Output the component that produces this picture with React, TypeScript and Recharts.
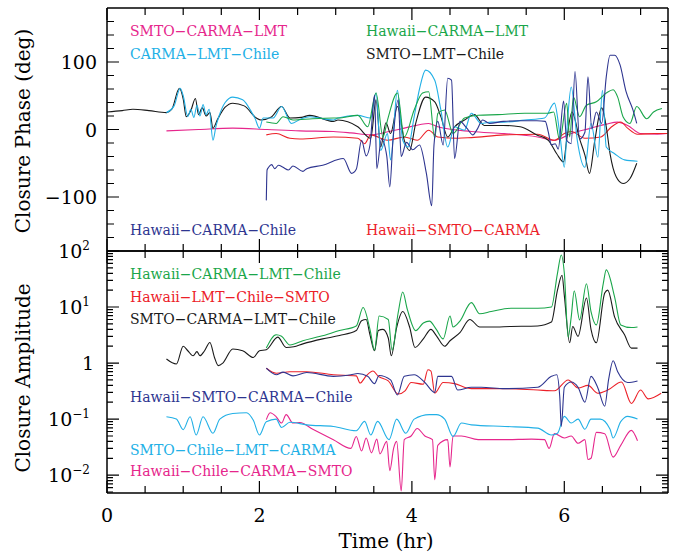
import React from 'react';
import { LineChart, Line, XAxis, YAxis } from 'recharts';

type P = [number, number];

// ---------- axis ticks ----------
const timeTicks = [0, 0.5, 1, 1.5, 2, 2.5, 3, 3.5, 4, 4.5, 5, 5.5, 6, 6.5, 7];
const timeLabels = [0, 2, 4, 6];
const phaseTicks = [-160, -140, -120, -100, -80, -60, -40, -20, 0, 20, 40, 60, 80, 100, 120, 140, 160];
const phaseLabels = [-100, 0, 100];
const ampMajor = [0.01, 0.1, 1, 10, 100];
const ampExp = ['−2', '−1', '', '1', '2'];
const ampMinorMult = [2, 3, 4, 5, 6, 7, 8, 9];

// ---------- closure phase (deg) ----------
const phSmtoLmtChile: P[] = [[0,26],[0.2,28],[0.34,30],[0.55,28],[0.78,25],[0.85,30],[0.95,61],[1.0,45],[1.04,19],[1.1,28],[1.16,46],[1.2,22],[1.25,32],[1.3,20],[1.35,25],[1.39,2],[1.45,15],[1.55,33],[1.65,39],[1.8,35],[1.96,17],[2.02,14],[2.15,18],[2.29,34],[2.4,17],[2.55,18],[2.66,21],[2.97,12],[3.03,14],[3.29,4],[3.46,-13],[3.53,44],[3.59,-26],[3.66,10],[3.72,-6],[3.81,34],[3.9,-16],[3.97,-31],[4.05,9],[4.18,48],[4.3,41],[4.38,19],[4.47,-11],[4.56,4],[4.69,14],[4.82,22],[4.95,6],[5.2,6],[5.42,4],[5.64,-8],[5.79,-16],[5.9,-36],[5.99,-48],[6.03,-16],[6.1,26],[6.2,-14],[6.27,-38],[6.33,-65],[6.4,-16],[6.49,32],[6.55,4],[6.6,-36],[6.68,-70],[6.77,-80],[6.86,-73],[6.95,-50]];
const phCarmaLmtChile: P[] = [[0.78,25],[0.88,35],[0.96,61],[1.0,50],[1.06,19],[1.1,30],[1.14,18],[1.18,36],[1.22,20],[1.26,37],[1.3,22],[1.34,30],[1.39,-16],[1.43,5],[1.47,20],[1.55,40],[1.65,48],[1.78,44],[1.9,25],[1.94,17],[2.0,2],[2.05,17],[2.18,17],[2.29,34],[2.42,9],[2.55,16],[2.66,19],[2.97,14],[3.03,17],[3.29,21],[3.46,17],[3.53,54],[3.59,-31],[3.68,-6],[3.72,-45],[3.81,58],[3.88,-16],[3.95,-26],[4.03,19],[4.1,60],[4.18,88],[4.3,73],[4.38,29],[4.47,-26],[4.56,4],[4.69,-1],[4.78,24],[4.91,9],[5.04,11],[5.21,11],[5.48,14],[5.74,17],[5.87,39],[5.94,-6],[6.0,-56],[6.04,10],[6.09,63],[6.17,-16],[6.27,-56],[6.35,9],[6.44,-41],[6.5,58],[6.55,-26],[6.66,-36],[6.79,-45],[6.96,-47]];
const phHawaiiCarmaLmt: P[] = [[2.09,11],[2.22,9],[2.31,19],[2.44,14],[2.7,16],[2.97,17],[3.03,17],[3.29,21],[3.42,4],[3.53,54],[3.62,-11],[3.68,14],[3.81,54],[3.9,-11],[4.03,29],[4.14,54],[4.22,56],[4.3,-13],[4.34,24],[4.43,29],[4.54,-6],[4.69,17],[4.87,21],[5.13,22],[5.48,24],[5.78,24],[5.86,26],[5.94,-16],[6.03,39],[6.07,-11],[6.12,48],[6.2,19],[6.29,36],[6.42,41],[6.55,54],[6.64,59],[6.7,48],[6.77,19],[6.86,9],[6.95,34],[7.08,16],[7.17,26],[7.28,31]];
const phSmtoCarmaLmt: P[] = [[0.78,-2],[1.2,0],[1.65,2],[2.1,0],[2.53,-2],[2.97,-3],[3.2,-5],[3.46,-8],[3.7,-3],[3.9,2],[4.22,9],[4.34,4],[4.78,-3],[5.21,-6],[5.65,-11],[5.87,-16],[6.09,-6],[6.35,2],[6.55,8],[6.7,11],[6.83,6],[7.0,-6],[7.22,-7],[7.35,-6]];
const phHawaiiSmtoCarma: P[] = [[2.09,-8],[2.22,-6],[2.4,-13],[2.53,-14],[2.97,-11],[3.29,-13],[3.38,-21],[3.46,-8],[3.68,-16],[3.9,-11],[4.07,-16],[4.22,-1],[4.34,-11],[4.6,-13],[4.78,-12],[5.21,-8],[5.65,-7],[5.87,-16],[6.0,-6],[6.09,-3],[6.27,-13],[6.48,-11],[6.62,4],[6.74,11],[6.83,2],[6.96,-7],[7.18,-6],[7.35,-6]];
const phHawaiiCarmaChile: P[] = [[2.09,-105],[2.1,-60],[2.12,-56],[2.16,-52],[2.2,-58],[2.25,-53],[2.31,-56],[2.38,-60],[2.44,-54],[2.57,-62],[2.62,-58],[2.83,-53],[3.1,-43],[3.21,-65],[3.27,-59],[3.34,-16],[3.4,-39],[3.45,-23],[3.51,51],[3.54,-58],[3.6,-14],[3.67,-39],[3.71,-85],[3.75,-19],[3.82,44],[3.86,-40],[3.93,-19],[4.01,-30],[4.1,-23],[4.19,-65],[4.26,-113],[4.29,-23],[4.34,12],[4.41,-23],[4.47,76],[4.52,73],[4.56,-43],[4.63,12],[4.72,2],[4.8,-8],[4.85,-1],[4.93,14],[5.02,9],[5.2,12],[5.42,13],[5.64,13],[5.75,12],[5.79,-4],[5.83,-23],[5.88,-21],[5.92,-29],[5.99,42],[6.03,-16],[6.09,-21],[6.14,86],[6.2,-14],[6.27,-4],[6.31,78],[6.36,1],[6.42,26],[6.49,9],[6.55,78],[6.6,110],[6.66,110],[6.73,96],[6.81,56],[6.9,29],[6.95,9]];

// ---------- closure amplitude ----------
const amSmtoCarmaLmtChile: P[] = [[0.78,1.18],[0.91,0.96],[1.0,2.0],[1.06,1.66],[1.13,1.35],[1.18,1.6],[1.22,1.35],[1.28,1.66],[1.35,2.33],[1.41,1.26],[1.46,0.9],[1.52,1.0],[1.65,1.78],[1.78,1.66],[1.92,1.26],[2.0,1.66],[2.09,1.73],[2.24,2.9],[2.35,1.9],[2.45,1.95],[2.57,2.2],[2.83,2.7],[3.05,3.1],[3.27,3.8],[3.34,5.7],[3.4,6.0],[3.45,3.2],[3.51,1.66],[3.56,3.8],[3.62,4.0],[3.69,2.8],[3.73,1.35],[3.8,4.3],[3.88,8.3],[3.97,4.4],[4.04,1.9],[4.15,2.7],[4.25,4.0],[4.32,3.1],[4.43,2.0],[4.5,2.5],[4.63,3.5],[4.76,6.0],[4.89,4.4],[5.04,4.4],[5.3,4.5],[5.65,4.6],[5.83,5.4],[5.91,20],[5.97,37],[6.0,16],[6.07,2.3],[6.11,4.5],[6.18,3.0],[6.29,14.5],[6.35,4.0],[6.42,2.3],[6.53,17.8],[6.57,20],[6.66,6.6],[6.79,3.2],[6.88,1.85],[6.96,1.85]];
const amHawaiiCarmaLmtChile: P[] = [[2.09,1.85],[2.22,3.2],[2.29,3.0],[2.4,2.1],[2.57,2.5],[2.8,3.0],[3.05,3.8],[3.27,4.6],[3.36,9.8],[3.45,4.0],[3.51,1.7],[3.57,6.9],[3.69,6.0],[3.74,1.7],[3.82,7.9],[3.88,18.5],[3.94,9.1],[4.05,3.8],[4.15,5.2],[4.23,5.6],[4.32,4.0],[4.41,2.7],[4.5,6.9],[4.54,4.4],[4.63,5.6],[4.78,12],[4.89,7.6],[5.04,8.3],[5.3,9.5],[5.65,9.5],[5.83,10],[5.91,40],[5.96,85],[6.0,40],[6.05,2.9],[6.09,6.6],[6.13,19.5],[6.2,5.9],[6.29,26],[6.35,8.3],[6.42,4.8],[6.51,26],[6.55,46],[6.66,15],[6.74,4.8],[6.88,4.3],[6.96,4.4]];
const amHawaiiLmtChileSmto: P[] = [[2.09,0.81],[2.22,0.66],[2.4,0.7],[2.62,0.7],[2.97,0.62],[3.27,0.59],[3.32,0.44],[3.4,0.59],[3.49,0.72],[3.56,0.58],[3.69,0.48],[3.82,0.28],[3.91,0.32],[3.99,0.45],[4.15,0.42],[4.21,0.76],[4.25,0.72],[4.3,0.29],[4.41,0.45],[4.56,0.43],[4.72,0.36],[4.78,0.35],[5.22,0.35],[5.65,0.33],[5.87,0.32],[6.05,0.5],[6.18,0.36],[6.31,0.4],[6.44,0.29],[6.57,0.33],[6.75,0.46],[6.88,0.19],[7.0,0.33],[7.1,0.23],[7.27,0.29]];
const amHawaiiSmtoCarmaChile: P[] = [[2.09,0.81],[2.22,0.62],[2.31,0.69],[2.44,0.59],[2.62,0.68],[2.97,0.58],[3.2,0.62],[3.29,0.65],[3.42,0.58],[3.51,0.43],[3.57,0.6],[3.72,0.5],[3.81,0.27],[3.9,0.58],[4.03,0.62],[4.17,0.45],[4.3,0.3],[4.34,0.58],[4.52,0.58],[4.6,0.33],[4.78,0.37],[4.91,0.37],[5.22,0.35],[5.65,0.37],[5.83,0.58],[5.9,0.62],[5.94,0.25],[5.96,0.074],[6.0,0.37],[6.09,0.46],[6.18,0.37],[6.27,0.2],[6.35,0.58],[6.44,0.36],[6.53,0.17],[6.58,0.5],[6.64,1.1],[6.7,0.7],[6.83,0.45],[6.96,0.48]];
const amSmtoChileLmtCarma: P[] = [[0.78,0.11],[0.91,0.1],[1.0,0.065],[1.09,0.11],[1.17,0.052],[1.26,0.11],[1.39,0.056],[1.48,0.1],[1.65,0.126],[1.83,0.13],[1.92,0.095],[2.0,0.052],[2.09,0.09],[2.22,0.1],[2.29,0.071],[2.4,0.088],[2.62,0.079],[2.97,0.074],[3.27,0.062],[3.38,0.091],[3.46,0.052],[3.55,0.091],[3.7,0.043],[3.8,0.1],[3.92,0.056],[4.03,0.1],[4.23,0.12],[4.32,0.12],[4.43,0.1],[4.54,0.049],[4.65,0.085],[4.78,0.079],[5.22,0.074],[5.65,0.069],[5.83,0.052],[5.91,0.056],[6.0,0.112],[6.09,0.085],[6.18,0.1],[6.27,0.066],[6.35,0.1],[6.47,0.1],[6.6,0.066],[6.64,0.046],[6.74,0.09],[6.83,0.112],[6.96,0.1]];
const amHawaiiChileCarmaSmto: P[] = [[2.09,0.098],[2.14,0.13],[2.22,0.11],[2.29,0.085],[2.35,0.12],[2.44,0.085],[2.53,0.087],[2.7,0.066],[2.97,0.043],[3.2,0.03],[3.27,0.049],[3.34,0.027],[3.4,0.046],[3.47,0.025],[3.54,0.044],[3.58,0.024],[3.67,0.04],[3.71,0.012],[3.76,0.03],[3.8,0.04],[3.86,0.0052],[3.9,0.043],[3.99,0.05],[4.07,0.068],[4.17,0.05],[4.27,0.043],[4.3,0.0083],[4.34,0.034],[4.47,0.043],[4.5,0.014],[4.54,0.05],[4.65,0.05],[4.87,0.043],[5.22,0.043],[5.57,0.044],[5.74,0.043],[5.8,0.03],[5.87,0.055],[6.0,0.046],[6.09,0.05],[6.18,0.037],[6.27,0.043],[6.31,0.019],[6.35,0.02],[6.42,0.058],[6.53,0.055],[6.64,0.021],[6.74,0.034],[6.88,0.063],[6.96,0.041]];

const C = {
  magenta: '#e6268c',
  cyan: '#22b0e6',
  green: '#1aa64a',
  black: '#1a1a1a',
  blue: '#2e3590',
  red: '#ec2028',
};

const FONT = "'DejaVu Serif', serif";
const rows = (p: P[]) => p.map(([t, v]) => ({ t, v }));

const ampTicks: number[] = [];
[0.001, 0.01, 0.1, 1, 10].forEach((d) => {
  ampMinorMult.forEach((m) => {
    const v = +(d * m).toPrecision(3);
    if (v >= 0.0048 && v < 100) ampTicks.push(v);
  });
});
ampMajor.forEach((v) => ampTicks.push(v));
ampTicks.sort((a, b) => a - b);
const isMajorAmp = (v: number) => ampMajor.findIndex((m) => Math.abs(m - v) / m < 1e-6);

// ---------- geometry (page pixels of the two plot frames) ----------
const X_DOMAIN: [number, number] = [0, 7.36];
const PH_DOMAIN: [number, number] = [-180, 180];
const AMP_DOMAIN: [number, number] = [0.0048, 100];
const PL = 107;
const PR = 668;
const T1 = 8;
const B1 = 251;
const T2 = 251;
const B2 = 493;
const xPx = (t: number) => PL + ((t - X_DOMAIN[0]) / (X_DOMAIN[1] - X_DOMAIN[0])) * (PR - PL);
const phPx = (v: number) => T1 + ((PH_DOMAIN[1] - v) / (PH_DOMAIN[1] - PH_DOMAIN[0])) * (B1 - T1);
const ampPx = (v: number) => T2 + (Math.log10(AMP_DOMAIN[1] / v) / Math.log10(AMP_DOMAIN[1] / AMP_DOMAIN[0])) * (B2 - T2);

function frameTickPath() {
  const seg: string[] = [];
  timeTicks.forEach((t) => {
    const x = xPx(t).toFixed(1);
    const len = timeLabels.includes(t) ? 12 : 7;
    seg.push(`M${x},${T1}v${len}`, `M${x},${B1}v${-len}`, `M${x},${T2}v${len}`, `M${x},${B2}v${-len}`);
  });
  phaseTicks.forEach((v) => {
    const y = phPx(v).toFixed(1);
    const len = phaseLabels.includes(v) ? 12 : 7;
    seg.push(`M${PL},${y}h${len}`, `M${PR},${y}h${-len}`);
  });
  ampTicks.forEach((v) => {
    const y = ampPx(v).toFixed(1);
    const len = isMajorAmp(v) >= 0 ? 12 : 6;
    seg.push(`M${PL},${y}h${len}`, `M${PR},${y}h${-len}`);
  });
  return seg.join('');
}

// ---------- tick labels ----------
const timeLabel = (props: any) => {
  const v = Number(props.payload.value);
  if (!timeLabels.includes(v)) return <g />;
  return (
    <text x={Number(props.x)} y={Number(props.y) + 29} textAnchor="middle" fontSize={19} fontFamily={FONT} fill="#000">
      {v}
    </text>
  );
};
const phaseLabel = (props: any) => {
  const v = Number(props.payload.value);
  if (!phaseLabels.includes(v)) return <g />;
  return (
    <text x={Number(props.x) - 10} y={Number(props.y) + 7} textAnchor="end" fontSize={19} fontFamily={FONT} fill="#000">
      {v < 0 ? '−' + Math.abs(v) : String(v)}
    </text>
  );
};
const ampLabel = (props: any) => {
  const v = Number(props.payload.value);
  const i = isMajorAmp(v);
  if (i < 0) return <g />;
  const x = Number(props.x);
  const y = Number(props.y);
  if (ampExp[i] === '')
    return <text x={x - 13} y={y + 7} textAnchor="end" fontSize={19} fontFamily={FONT} fill="#000">1</text>;
  return (
    <text x={x - 17} y={y + 7} textAnchor="end" fontSize={19} fontFamily={FONT} fill="#000">
      10<tspan dy={-8} fontSize={12}>{ampExp[i]}</tspan>
    </text>
  );
};

const lineProps = {
  type: 'monotone' as const,
  dataKey: 'v',
  dot: false,
  activeDot: false,
  strokeWidth: 1.1,
  isAnimationActive: false,
};

const axisCommon = {
  tickSize: 0,
  tickMargin: 0,
  interval: 0 as const,
  tickLine: false,
  allowDataOverflow: true,
  type: 'number' as const,
};
const frame = { stroke: '#000', strokeWidth: 1.5 };

const labelStyle = { fontFamily: FONT, fontSize: 14 } as const;

export default function App() {
  return (
    <div style={{ position: 'absolute', left: 0, top: 0, width: 678, height: 557, background: '#fff' }}>
      <div style={{ position: 'absolute', left: 0, top: 0 }}>
        <LineChart width={678} height={260} margin={{ top: 0, right: 0, bottom: 0, left: 0 }}>
          <XAxis xAxisId={0} dataKey="t" domain={X_DOMAIN} ticks={timeTicks} height={9} orientation="bottom" tick={false} axisLine={frame} {...axisCommon} />
          <XAxis xAxisId="top" dataKey="t" domain={X_DOMAIN} ticks={timeTicks} height={8} orientation="top" tick={false} axisLine={frame} {...axisCommon} />
          <YAxis yAxisId={0} domain={PH_DOMAIN} ticks={phaseTicks} width={107} orientation="left" tick={phaseLabel} axisLine={frame} {...axisCommon} />
          <YAxis yAxisId="right" domain={PH_DOMAIN} ticks={phaseTicks} width={10} orientation="right" tick={false} axisLine={frame} {...axisCommon} />
          <Line {...lineProps} data={rows(phSmtoCarmaLmt)} stroke={C.magenta} />
          <Line {...lineProps} data={rows(phHawaiiSmtoCarma)} stroke={C.red} />
          <Line {...lineProps} data={rows(phSmtoLmtChile)} stroke={C.black} />
          <Line {...lineProps} data={rows(phCarmaLmtChile)} stroke={C.cyan} />
          <Line {...lineProps} data={rows(phHawaiiCarmaLmt)} stroke={C.green} />
          <Line {...lineProps} data={rows(phHawaiiCarmaChile)} stroke={C.blue} />
        </LineChart>
      </div>
      <div style={{ position: 'absolute', left: 0, top: 231 }}>
        <LineChart width={678} height={326} margin={{ top: 0, right: 0, bottom: 0, left: 0 }}>
          <XAxis xAxisId={0} dataKey="t" domain={X_DOMAIN} ticks={timeTicks} height={64} orientation="bottom" tick={timeLabel} axisLine={frame} {...axisCommon} />
          <XAxis xAxisId="top" dataKey="t" domain={X_DOMAIN} ticks={timeTicks} height={20} orientation="top" tick={false} axisLine={frame} {...axisCommon} />
          <YAxis yAxisId={0} scale="log" domain={AMP_DOMAIN} ticks={ampTicks} width={107} orientation="left" tick={ampLabel} axisLine={frame} {...axisCommon} />
          <YAxis yAxisId="right" scale="log" domain={AMP_DOMAIN} ticks={ampTicks} width={10} orientation="right" tick={false} axisLine={frame} {...axisCommon} />
          <Line {...lineProps} data={rows(amHawaiiChileCarmaSmto)} stroke={C.magenta} />
          <Line {...lineProps} data={rows(amSmtoChileLmtCarma)} stroke={C.cyan} />
          <Line {...lineProps} data={rows(amHawaiiLmtChileSmto)} stroke={C.red} />
          <Line {...lineProps} data={rows(amHawaiiSmtoCarmaChile)} stroke={C.blue} />
          <Line {...lineProps} data={rows(amSmtoCarmaLmtChile)} stroke={C.black} />
          <Line {...lineProps} data={rows(amHawaiiCarmaLmtChile)} stroke={C.green} />
        </LineChart>
      </div>
      <svg width={678} height={557} style={{ position: 'absolute', left: 0, top: 0, pointerEvents: 'none' }}>
        <path d={frameTickPath()} stroke="#000" strokeWidth={1.2} fill="none" />
        <g style={labelStyle}>
          <text x={130} y={36} fill={C.magenta}>SMTO−CARMA−LMT</text>
          <text x={130} y={59} fill={C.cyan}>CARMA−LMT−Chile</text>
          <text x={366} y={36} fill={C.green}>Hawaii−CARMA−LMT</text>
          <text x={366} y={59} fill={C.black}>SMTO−LMT−Chile</text>
          <text x={130} y={235} fill={C.blue}>Hawaii−CARMA−Chile</text>
          <text x={366} y={235} fill={C.red}>Hawaii−SMTO−CARMA</text>
          <text x={130} y={279} fill={C.green}>Hawaii−CARMA−LMT−Chile</text>
          <text x={130} y={301.5} fill={C.red}>Hawaii−LMT−Chile−SMTO</text>
          <text x={130} y={324} fill={C.black}>SMTO−CARMA−LMT−Chile</text>
          <text x={130} y={402} fill={C.blue}>Hawaii−SMTO−CARMA−Chile</text>
          <text x={130} y={455} fill={C.cyan}>SMTO−Chile−LMT−CARMA</text>
          <text x={130} y={475.5} fill={C.magenta}>Hawaii−Chile−CARMA−SMTO</text>
        </g>
        <text transform="translate(30,131) rotate(-90)" textAnchor="middle" fontFamily={FONT} fontSize={20} fill="#000">Closure Phase (deg)</text>
        <text transform="translate(30,378) rotate(-90)" textAnchor="middle" fontFamily={FONT} fontSize={20} fill="#000">Closure Amplitude</text>
        <text x={386} y={548} textAnchor="middle" fontFamily={FONT} fontSize={20} fill="#000">Time (hr)</text>
      </svg>
    </div>
  );
}
